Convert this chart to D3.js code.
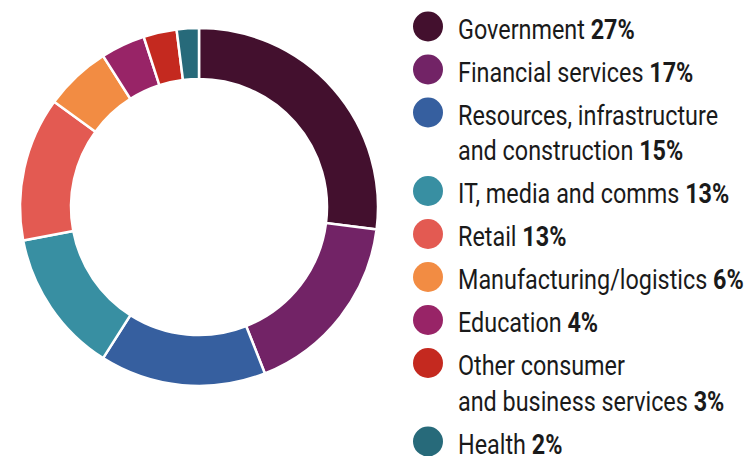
<!DOCTYPE html>
<html>
<head>
<meta charset="utf-8">
<script src="https://cdn.jsdelivr.net/npm/d3@7"></script>
<style>
  html, body { margin: 0; padding: 0; background: #fff; }
  svg { display: block; }
  .legend text { font-family: "Roboto", sans-serif; font-size: 28px; fill: #1a1a1a; }
  .legend .pct { font-weight: bold; }
</style>
</head>
<body>
<div id="chart"></div>
<script>
// Sector shares, in drawing order (clockwise from 12 o'clock)
const categories = [
  ['Government'],
  ['Financial services'],
  ['Resources, infrastructure', 'and construction'],
  ['IT, media and comms'],
  ['Retail'],
  ['Manufacturing/logistics'],
  ['Education'],
  ['Other consumer', 'and business services'],
  ['Health']
];
const values = [27, 17, 15, 13, 13, 6, 4, 3, 2];
const colors = ['#43102e', '#722366', '#365f9f', '#388fa2', '#e35a52', '#f28c43', '#982467', '#c4291f', '#276a7a'];

const width = 745, height = 456;
const cx = 199, cy = 207;
const outerR = 179, innerR = 128;

const data = values.map((v, i) => ({ lines: categories[i], value: v, color: colors[i] }));

const svg = d3.select('#chart').append('svg')
  .attr('width', width)
  .attr('height', height);

const pie = d3.pie().sort(null).value(d => d.value);
const arc = d3.arc().innerRadius(innerR).outerRadius(outerR);

svg.append('g')
  .attr('transform', `translate(${cx},${cy})`)
  .selectAll('path')
  .data(pie(data))
  .join('path')
    .attr('d', arc)
    .attr('fill', d => d.data.color)
    .attr('stroke', '#fff')
    .attr('stroke-width', 2.5);

// Legend (condensed look: squeeze Roboto horizontally)
const legend = svg.append('g').attr('class', 'legend');
const itemGap = 43, lineGap = 35.5;
const textX = 458, dotX = 428, dotR = 15, squeeze = 0.835;
let y = 39;

data.forEach(d => {
  const g = legend.append('g');
  g.append('circle')
    .attr('cx', dotX)
    .attr('cy', y - 12.5)
    .attr('r', dotR)
    .attr('fill', d.color);
  const tg = g.append('g')
    .attr('transform', `translate(${textX},0) scale(${squeeze},1)`);
  d.lines.forEach((line, j) => {
    const t = tg.append('text')
      .attr('x', 0)
      .attr('y', y + j * lineGap);
    t.append('tspan').text(line);
    if (j === d.lines.length - 1) {
      t.append('tspan').attr('class', 'pct').text(' ' + d.value + '%');
    }
  });
  y += itemGap + (d.lines.length - 1) * lineGap;
});
</script>
</body>
</html>
